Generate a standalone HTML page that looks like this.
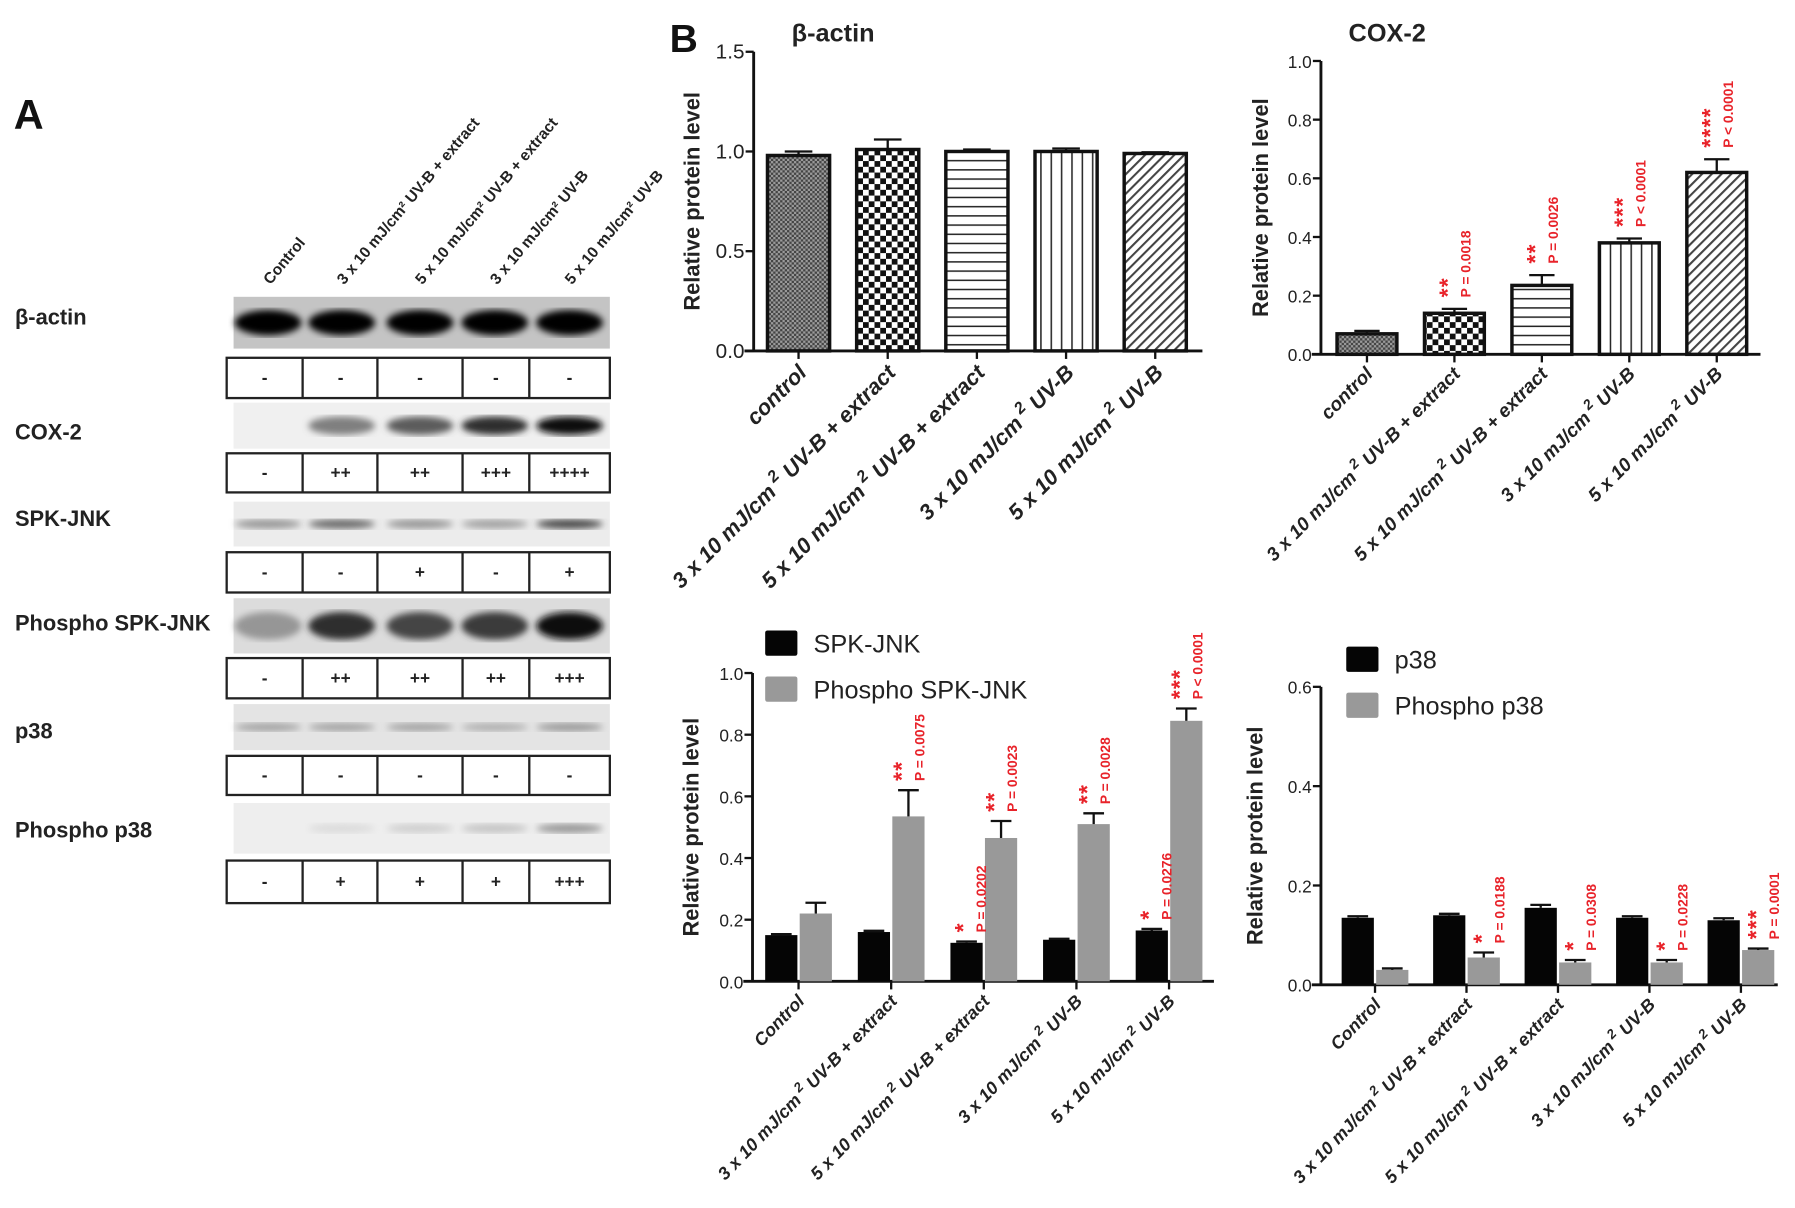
<!DOCTYPE html>
<html><head><meta charset="utf-8"><style>
html,body{margin:0;padding:0;background:#fff}
svg{display:block}
text{font-family:"Liberation Sans",sans-serif}
</style></head><body>
<svg id="fig" width="1795" height="1208" viewBox="0 0 1560 1050" preserveAspectRatio="none" xmlns="http://www.w3.org/2000/svg">
<defs>
<pattern id="pDense" width="4" height="4" patternUnits="userSpaceOnUse"><rect width="4" height="4" fill="#9a9a9a"/><rect width="2" height="2" fill="#444"/><rect x="2" y="2" width="2" height="2" fill="#444"/></pattern>
<pattern id="pCheck" width="10" height="10" patternUnits="userSpaceOnUse"><rect width="10" height="10" fill="#fff"/><rect width="5" height="5" fill="#111"/><rect x="5" y="5" width="5" height="5" fill="#111"/></pattern>
<pattern id="pHoriz" width="8" height="8" patternUnits="userSpaceOnUse"><rect width="8" height="8" fill="#fff"/><rect y="3" width="8" height="1.3" fill="#222"/></pattern>
<pattern id="pVert" width="9" height="9" patternUnits="userSpaceOnUse"><rect width="9" height="9" fill="#fff"/><rect x="4" width="1.3" height="9" fill="#222"/></pattern>
<pattern id="pDiag" width="6" height="6" patternUnits="userSpaceOnUse" patternTransform="rotate(45)"><rect width="6" height="6" fill="#fff"/><rect width="1.8" height="6" fill="#444"/></pattern>
<filter id="blur"><feGaussianBlur stdDeviation="3"/></filter>
</defs>
<g id="panelA"></g>
<g id="charts"></g>
</svg>
<script>
const NS="http://www.w3.org/2000/svg";
function mk(parent,tag,attrs,txt){const e=document.createElementNS(NS,tag);for(const k in attrs)e.setAttribute(k,attrs[k]);if(txt!==undefined)e.textContent=txt;parent.appendChild(e);return e;}

// ---------- Chart data ----------
const actinCats=["control","3 x 10 mJ/cm² UV-B + extract","5 x 10 mJ/cm² UV-B + extract","3 x 10 mJ/cm² UV-B","5 x 10 mJ/cm² UV-B"];
const actinVals=[0.98,1.01,1.0,1.0,0.99];
const actinErr=[0.02,0.05,0.01,0.015,0.006];
const actinTicks=["0.0","0.5","1.0","1.5"];
const coxVals=[0.07,0.14,0.235,0.38,0.62];
const coxErr=[0.01,0.015,0.035,0.015,0.045];
const coxTicks=["0.0","0.2","0.4","0.6","0.8","1.0"];
const coxStars=["","**","**","***","****"];
const coxP=["","P = 0.0018","P = 0.0026","P < 0.0001","P < 0.0001"];
const bottomCats=["Control","3 x 10 mJ/cm² UV-B + extract","5 x 10 mJ/cm² UV-B + extract","3 x 10 mJ/cm² UV-B","5 x 10 mJ/cm² UV-B"];
const jnkVals=[0.15,0.16,0.125,0.135,0.165];
const jnkErr=[0.003,0.004,0.004,0.003,0.005];
const pjnkVals=[0.22,0.535,0.465,0.51,0.845];
const pjnkErr=[0.035,0.085,0.055,0.035,0.04];
const jnkTicks=["0.0","0.2","0.4","0.6","0.8","1.0"];
const jnkStars=["","","*","","*"];
const jnkP=["","","P = 0.0202","","P = 0.0276"];
const pjnkStars=["","**","**","**","***"];
const pjnkP=["","P = 0.0075","P = 0.0023","P = 0.0028","P < 0.0001"];
const p38Vals=[0.135,0.14,0.155,0.135,0.13];
const p38Err=[0.003,0.003,0.006,0.003,0.004];
const pp38Vals=[0.03,0.055,0.045,0.045,0.07];
const pp38Err=[0.003,0.01,0.005,0.005,0.003];
const p38Ticks=["0.0","0.2","0.4","0.6"];
const pp38Stars=["","*","*","*","***"];
const pp38P=["","P = 0.0188","P = 0.0308","P = 0.0228","P = 0.0001"];

const C=document.getElementById('charts');

function axes(g,o){
  const ax=mk(g,'g',{});
  
  
  mk(ax,'line',{x1:o.x0,y1:o.yTop,x2:o.x0,y2:o.y0+1,stroke:'#111','stroke-width':2.5});
  mk(ax,'line',{x1:o.x0-8,y1:o.y0,x2:o.x1,y2:o.y0,stroke:'#111','stroke-width':2.5});
  o.ticks.forEach((t,i)=>{const v=parseFloat(t);const y=o.ys(v);
    mk(ax,'line',{x1:o.x0-7,y1:y,x2:o.x0,y2:y,stroke:'#111','stroke-width':2});
    const tl=mk(ax,'text',{x:o.x0-8,y:y+6,'text-anchor':'end','font-size':o.tfs,fill:'#222'},t);
    
    
  });
  const yl=mk(ax,'text',{x:0,y:0,transform:`translate(${o.ylx},${(o.y0+o.yTop)/2}) rotate(-90)`,'text-anchor':'middle','font-size':19,'font-weight':'bold',fill:'#222'},'Relative protein level');
  
  
}
function catLabel(g,x,y,label,fs,ang){
  const t=mk(g,'text',{transform:`translate(${x},${y}) rotate(${ang})`,'text-anchor':'end','font-size':fs,'font-weight':'bold','font-style':'italic',fill:'#222'});
  const m=label.match(/^(.*mJ\/cm)²(.*)$/);
  if(m){mk(t,'tspan',{},m[1]);mk(t,'tspan',{dy:-fs*0.45,'font-size':fs*0.75},' 2');mk(t,'tspan',{dy:fs*0.45},m[2]);}
  else t.textContent=label;
  
  
}
function annot(g,x,yBase,stars,p){
  if(!stars)return;
  const s=mk(g,'text',{transform:`translate(${x},${yBase}) rotate(-90)`,'font-size':20,'font-weight':'bold',fill:'#e8232a','letter-spacing':'1'},stars);
  
  
  const pt=mk(g,'text',{transform:`translate(${x+13},${yBase}) rotate(-90)`,'font-size':12,'font-weight':'bold',fill:'#e8232a'},p);
  
  
}
function errBar(g,x,yTop,yv,w){
  mk(g,'line',{x1:x,y1:yv,x2:x,y2:yTop,stroke:'#111','stroke-width':2});
  mk(g,'line',{x1:x-w,y1:yTop,x2:x+w,y2:yTop,stroke:'#111','stroke-width':2});
}

// ---------- beta-actin chart ----------
(function(){
  const g=mk(C,'g',{});
  
  
  const x0=655,x1=1045,y0=305,yTop=45,max=1.5;
  const ys=v=>y0-(v/max)*(y0-yTop);
  const xc=i=>694+i*77.5;
  const pats=['pDense','pCheck','pHoriz','pVert','pDiag'];
  axes(g,{x0,x1,y0,yTop,ys,ticks:actinTicks,tfs:18,ylx:608});
  actinVals.forEach((v,i)=>{
    const b=mk(g,'rect',{x:xc(i)-27,y:ys(v),width:54,height:y0-ys(v),fill:`url(#${pats[i]})`,stroke:'#111','stroke-width':3});
    
    
    errBar(g,xc(i),ys(v+actinErr[i]),ys(v),12);
    mk(g,'line',{x1:xc(i),y1:y0,x2:xc(i),y2:y0+7,stroke:'#111','stroke-width':2});
    catLabel(g,xc(i)+8,y0+20,actinCats[i],19,-45);
  });
  const t=mk(g,'text',{x:688,y:36,'font-size':22,'font-weight':'bold',fill:'#222'},'β-actin');
  
  
  const B=mk(g,'text',{x:582,y:45,'font-size':34,'font-weight':'bold',fill:'#111'},'B');
  
  
})();

// ---------- COX-2 chart ----------
(function(){
  const g=mk(C,'g',{});
  
  
  const x0=1148,x1=1530,y0=308,yTop=53,max=1.0;
  const ys=v=>y0-(v/max)*(y0-yTop);
  const xc=i=>1188+i*76;
  const pats=['pDense','pCheck','pHoriz','pVert','pDiag'];
  axes(g,{x0,x1,y0,yTop,ys,ticks:coxTicks,tfs:15,ylx:1102});
  coxVals.forEach((v,i)=>{
    const b=mk(g,'rect',{x:xc(i)-26,y:ys(v),width:52,height:y0-ys(v),fill:`url(#${pats[i]})`,stroke:'#111','stroke-width':3});
    
    
    errBar(g,xc(i),ys(v+coxErr[i]),ys(v),11);
    mk(g,'line',{x1:xc(i),y1:y0,x2:xc(i),y2:y0+7,stroke:'#111','stroke-width':2});
    catLabel(g,xc(i)+6,y0+18,actinCats[i],16.5,-45);
    annot(g,xc(i)+1,ys(v+coxErr[i])-10,coxStars[i],coxP[i]);
  });
  const t=mk(g,'text',{x:1172,y:36,'font-size':22,'font-weight':'bold',fill:'#222'},'COX-2');
  
  
})();

// ---------- grouped charts ----------
function grouped(o){
  const g=mk(C,'g',{});
  
  
  const ys=v=>o.y0-(v/o.max)*(o.y0-o.yTop);
  const xc=i=>o.c0+i*o.step;
  axes(g,{x0:o.x0,x1:o.x1,y0:o.y0,yTop:o.yTop,ys,ticks:o.ticks,tfs:15,ylx:o.ylx});
  o.a.forEach((v,i)=>{
    const b1=mk(g,'rect',{x:xc(i)-29,y:ys(v),width:28,height:o.y0-ys(v),fill:'#050505'});
    
    
    errBar(g,xc(i)-15,ys(v+o.ae[i]),ys(v),9);
    const w=o.b[i];
    const b2=mk(g,'rect',{x:xc(i)+1,y:ys(w),width:28,height:o.y0-ys(w),fill:'#999'});
    
    
    errBar(g,xc(i)+15,ys(w+o.be[i]),ys(w),9);
    mk(g,'line',{x1:xc(i),y1:o.y0,x2:xc(i),y2:o.y0+7,stroke:'#111','stroke-width':2});
    catLabel(g,xc(i)+6,o.y0+18,bottomCats[i],15.5,-46);
    if(o.aS)annot(g,xc(i)-11,ys(v+o.ae[i])-8,o.aS[i],o.aP[i]);
    annot(g,xc(i)+ (o.bOff||16),ys(w+o.be[i])-8,o.bS[i],o.bP[i]);
  });
  o.legend.forEach((lab,i)=>{
    const le=mk(g,'g',{});
    
    
    mk(le,'rect',{x:o.lx,y:o.ly+i*40,width:28,height:22,rx:2,fill:i?'#999':'#050505'});
    mk(le,'text',{x:o.lx+42,y:o.ly+i*40+19,'font-size':22,fill:'#222'},lab);
  });
}
grouped({name:'spk-jnk-chart',x0:654,x1:1055,y0:853,yTop:585,max:1.0,ticks:jnkTicks,c0:694,step:80.5,ylx:607,
  a:jnkVals,ae:jnkErr,b:pjnkVals,be:pjnkErr,aS:jnkStars,aP:jnkP,bS:pjnkStars,bP:pjnkP,
  legend:['SPK-JNK','Phospho SPK-JNK'],lx:665,ly:548});
grouped({name:'p38-chart',x0:1148,x1:1545,y0:856,yTop:597,max:0.6,ticks:p38Ticks,c0:1195,step:79.5,ylx:1097,
  a:p38Vals,ae:p38Err,b:pp38Vals,be:pp38Err,bS:pp38Stars,bP:pp38P,bOff:20,
  legend:['p38','Phospho p38'],lx:1170,ly:562});

// ---------- Panel A ----------
const A=document.getElementById('panelA');
const laneX=[233,297,365,430,495];
const colLabels=["Control","3 x 10 mJ/cm² UV-B + extract","5 x 10 mJ/cm² UV-B + extract","3 x 10 mJ/cm² UV-B","5 x 10 mJ/cm² UV-B"];
const rowNames=["β-actin","COX-2","SPK-JNK","Phospho SPK-JNK","p38","Phospho p38"];
const rowLabelY=[282,382,457,548,642,728];
const blotY=[[258,303],[350,390],[436,475],[520,568],[612,652],[698,742]];
const blotBg=['#c4c4c4','#f0f0f0','#ececec','#dcdcdc','#e4e4e4','#eeeeee'];
const bandDark=[[1,1,1,1,1],[0,0.45,0.6,0.8,0.95],[0.35,0.55,0.35,0.3,0.7],[0.35,0.8,0.7,0.75,0.95],[0.3,0.3,0.3,0.25,0.35],[0,0.05,0.1,0.15,0.35]];
const bandH=[20,14,6,22,5,6];
const boxY=[[311,346],[394,428],[480,515],[572,607],[657,691],[748,785]];
const signs=[["-","-","-","-","-"],["-","++","++","+++","++++"],["-","-","+","-","+"],["-","++","++","++","+++"],["-","-","-","-","-"],["-","+","+","+","+++"]];
const Al=mk(A,'text',{x:12,y:112,'font-size':36,'font-weight':'bold',fill:'#111'},'A');


colLabels.forEach((l,i)=>{
  const t=mk(A,'text',{transform:`translate(${laneX[i]+2},${248}) rotate(-50)`,'font-size':13.5,'font-weight':'bold',fill:'#222'},l);
  
  
});
rowNames.forEach((n,r)=>{
  const t=mk(A,'text',{x:13,y:rowLabelY[r],'font-size':19,'font-weight':'bold',fill:'#222'},n);
  
  
  const bl=mk(A,'g',{});
  
  
  const [ya,yb]=blotY[r];
  mk(bl,'rect',{x:203,y:ya,width:327,height:yb-ya,fill:blotBg[r]});
  const cy=(ya+yb)/2;
  laneX.forEach((x,i)=>{const d=bandDark[r][i];if(d<=0)return;
    const c=Math.round(230*(1-d));
    mk(bl,'ellipse',{cx:x,cy:cy,rx:29,ry:bandH[r]/2+1,fill:`rgb(${c},${c},${c})`,filter:'url(#blur)'});
  });
  const bx=mk(A,'g',{});
  
  
  const [by,by2]=boxY[r];
  mk(bx,'rect',{x:197,y:by,width:333,height:by2-by,fill:'none',stroke:'#222','stroke-width':2});
  [263,328,402,460].forEach(x=>mk(bx,'line',{x1:x,y1:by,x2:x,y2:by2,stroke:'#222','stroke-width':2}));
  const cx=[230,296,365,431,495];
  signs[r].forEach((s,i)=>mk(bx,'text',{x:cx[i],y:(by+by2)/2+5,'text-anchor':'middle','font-size':15,'font-weight':'bold',fill:'#222'},s));
});
</script>
</body></html>
